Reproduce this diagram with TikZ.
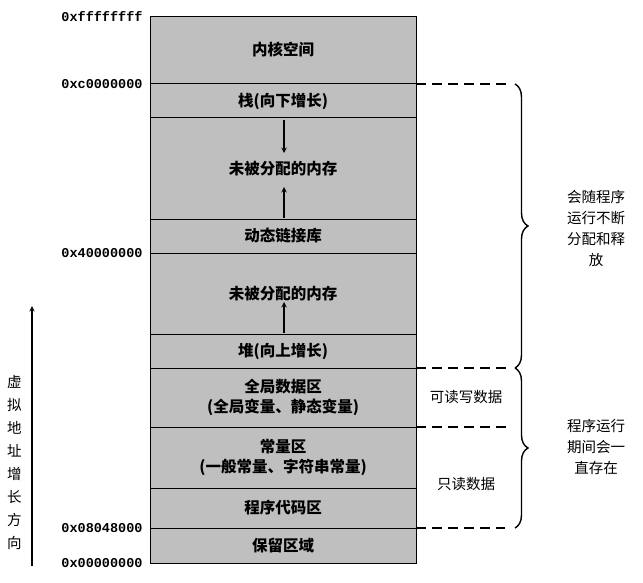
\documentclass[tikz,border=0pt]{standalone}
\usepackage{fontspec}
\setmainfont{Noto Sans CJK SC}
\newfontfamily\mono{Liberation Mono}
\usetikzlibrary{decorations.pathreplacing}
\begin{document}
\begin{tikzpicture}[x=1pt,y=-1pt,
 seg/.style={draw=black,fill=black!25,line width=1pt},
 lbl/.style={font=\fontsize{13.5}{13.5}\selectfont\mono\bfseries,anchor=east},
 txt/.style={font=\fontsize{15.5}{20}\selectfont\bfseries,align=center},
 side/.style={font=\fontsize{14.5}{21}\selectfont,align=center},
 dsh/.style={dashed,dash pattern=on 10pt off 6pt,line width=1.4pt},
 br/.style={decorate,decoration={brace,amplitude=13pt,raise=0pt},line width=1.4pt},
 arr/.style={->,>=stealth,line width=1.4pt}]
\useasboundingbox (0,0) rectangle (643,583);
\foreach \a/\b in {17/84,84/118,118/219,219/253,253/334,334/368,368/427,427/488,488/528,528/563}
  \draw[seg] (150,\a) rectangle (416,\b);
\node[txt] (k) at (283,50) {内核空间};
\node[txt] (s) at (283,101) {栈(向下增长)};
\node[txt] (u1) at (283,169) {未被分配的内存};
\node[txt] (d) at (283,236) {动态链接库};
\node[txt] (u2) at (283,294) {未被分配的内存};
\node[txt] (h) at (283,351) {堆(向上增长)};
\node[txt] (g) at (283,397) {全局数据区\\(全局变量、静态变量)};
\node[txt] (c) at (283,457) {常量区\\(一般常量、字符串常量)};
\node[txt] (p) at (283,508) {程序代码区};
\node[txt] (r) at (283,546) {保留区域};
\coordinate (a1) at (284,120); \coordinate (a2) at (284,153);
\coordinate (b1) at (284,218); \coordinate (b2) at (284,187);
\coordinate (c1) at (284,333); \coordinate (c2) at (284,302);
\draw[arr] (a1) -- (a2); \draw[arr] (b1) -- (b2); \draw[arr] (c1) -- (c2);
\node[lbl] (l1) at (146,17) {0xffffffff};
\node[lbl] (l2) at (146,84) {0xc0000000};
\node[lbl] (l3) at (146,253) {0x40000000};
\node[lbl] (l4) at (146,528) {0x08048000};
\node[lbl] (l5) at (146,563) {0x00000000};
\coordinate (v1) at (32,566); \coordinate (v2) at (32,306);
\draw[arr] (v1) -- (v2);
\node[side,text width=14pt,font=\fontsize{14.5}{23}\selectfont] (v) at (14,462) {虚\\拟\\地\\址\\增\\长\\方\\向};
\coordinate (e1) at (416,84); \coordinate (e1b) at (512,84);
\coordinate (e2) at (416,368); \coordinate (e2b) at (512,368);
\coordinate (e3) at (416,427); \coordinate (e3b) at (512,427);
\coordinate (e4) at (416,528); \coordinate (e4b) at (505,528);
\draw[dsh] (e1) -- (e1b); \draw[dsh] (e2) -- (e2b);
\draw[dsh] (e3) -- (e3b); \draw[dsh] (e4) -- (e4b);
\coordinate (q1) at (515,84); \coordinate (q2) at (515,368);
\coordinate (q3) at (515,528);
\draw[br] (q1) -- (q2);
\draw[br] (q2) -- (q3);
\node[side] (t1) at (596,228) {会随程序\\运行不断\\分配和释\\放};
\node[side] (t2) at (596,447) {程序运行\\期间会一\\直存在};
\node[side] (rw) at (466,397) {可读写数据};
\node[side] (ro) at (466,484) {只读数据};
\end{tikzpicture}
\end{document}
